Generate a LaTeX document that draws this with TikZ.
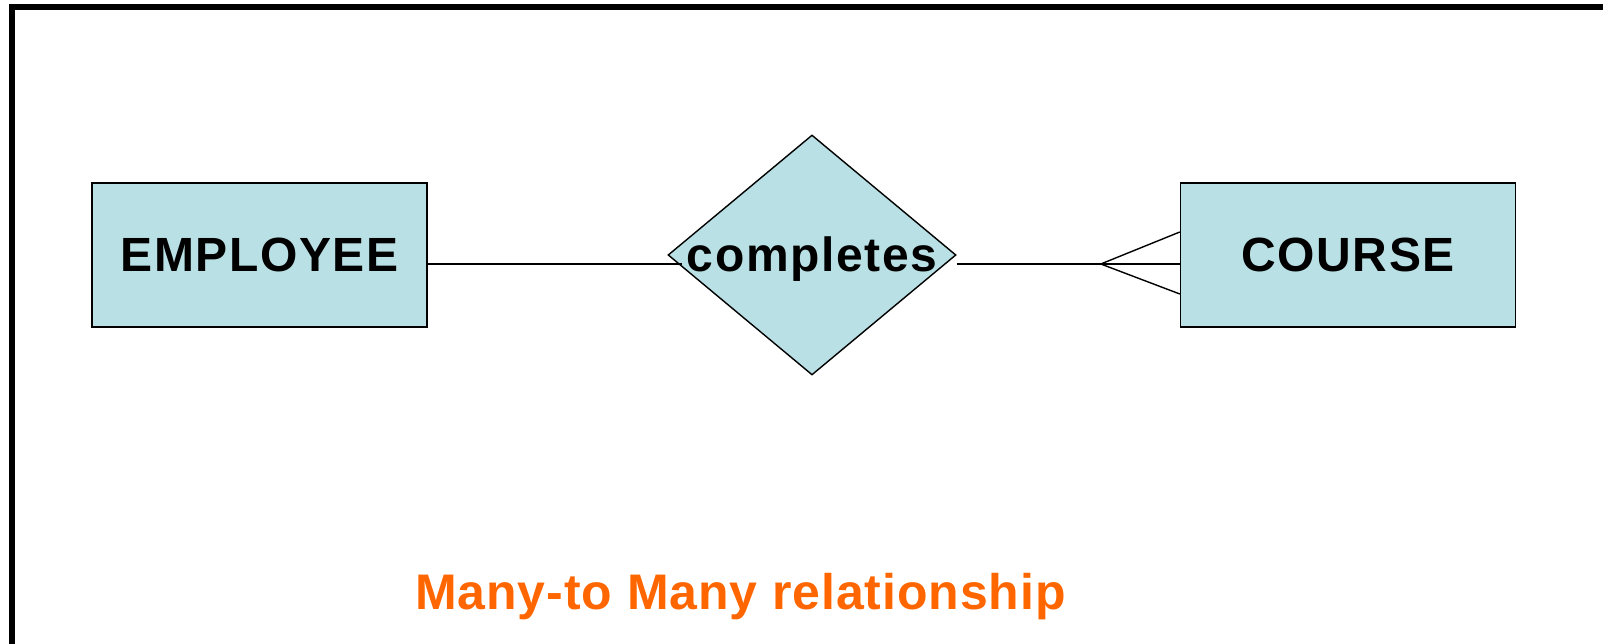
\documentclass[tikz,border=0pt]{standalone}
\usepackage{fontspec}
\setmainfont{Liberation Sans}
\newfontfamily\labelfont[LetterSpace=3.3]{Liberation Sans}
\newfontfamily\captionfont[LetterSpace=1.8]{Liberation Sans}
\usetikzlibrary{shapes.geometric}
\definecolor{erfill}{RGB}{185,224,228}
\definecolor{orangetxt}{RGB}{255,102,0}
\tikzset{
  entity/.style={draw=black, line width=1.4pt, fill=erfill, rectangle, inner sep=0pt,
    minimum width=335pt, minimum height=144pt, text height=34pt, text depth=0pt,
    font=\labelfont\fontsize{48}{58}\selectfont\bfseries},
  relation/.style={draw=black, line width=1.4pt, fill=erfill, diamond, inner sep=0pt,
    minimum width=288pt, minimum height=240pt, text height=34pt, text depth=0pt,
    font=\labelfont\fontsize{48}{58}\selectfont\bfseries},
  conn/.style={draw=black, line width=1.4pt},
  caption/.style={text=orangetxt, font=\captionfont\fontsize{50}{60}\selectfont\bfseries, inner sep=0pt, anchor=base}
}
\begin{document}
\begin{tikzpicture}[x=1pt,y=1pt]
\useasboundingbox (0,0) rectangle (1603,644);
% frame (left and top edges)
\draw[line width=6pt, line join=miter] (12,-5) -- (12,637) -- (1610,637);
% nodes
\node[entity] (emp) at (259.5,389) {EMPLOYEE};
\node[entity] (course) at (1348,389) {COURSE};
\node[relation] (rel) at (812,389) {\makebox[0pt]{completes}};
% connectors
\draw[conn] ([yshift=-9pt]emp.east) -- ([xshift=15pt,yshift=-9pt]rel.west);
\coordinate (cf) at ([xshift=-79pt,yshift=-9pt]course.west);
\draw[conn] ([yshift=-9pt]rel.east) -- (cf);
\draw[conn] (cf) -- ([yshift=-9pt]course.west);
\draw[conn] (cf) -- ([yshift=23pt]course.west);
\draw[conn] (cf) -- ([yshift=-39pt]course.west);
% caption
\node[caption] (cap) at (740.5,34) {Many-to Many relationship};
\end{tikzpicture}
\end{document}
